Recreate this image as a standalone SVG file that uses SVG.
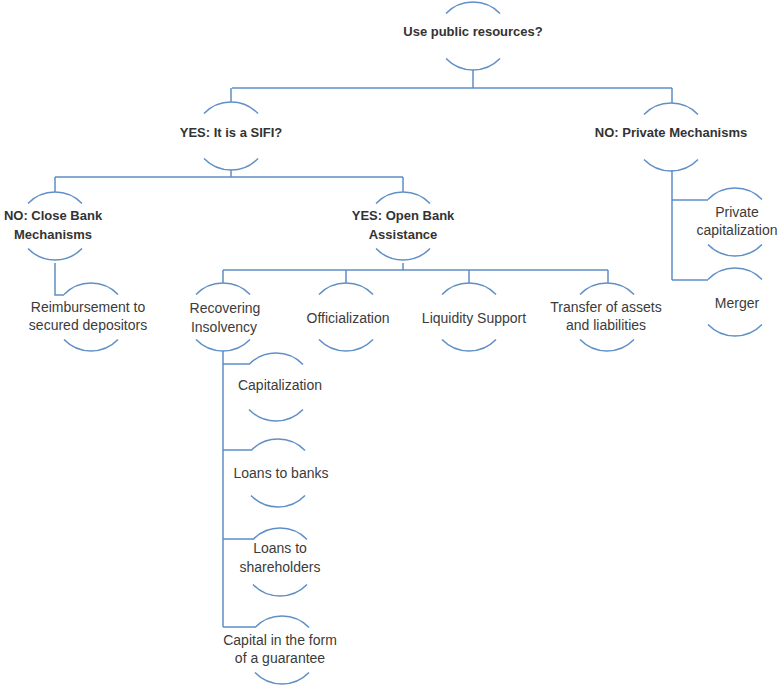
<svg xmlns="http://www.w3.org/2000/svg" xmlns:xlink="http://www.w3.org/1999/xlink" width="779" height="687" viewBox="0 0 779 687">
<style>
.ln{fill:none;stroke:#5f8fc6;stroke-width:1.5}
.t{font-family:"Liberation Sans",Arial,sans-serif;font-size:14px;fill:#3b3b3b;text-anchor:middle}
.b{font-family:"Liberation Sans",Arial,sans-serif;font-size:13px;font-weight:bold;fill:#333;text-anchor:middle}
</style>
<defs>
<path id="arcs" class="ln" d="M-27,11.5 A37.5,37.5 0 0 1 27,11.5 M-27,56.5 A37.5,37.5 0 0 0 27,56.5"/>
</defs>
<rect width="779" height="687" fill="#fff"/>
<g id="connectors" class="ln">
<path d="M473,70 V88 M232,88 H672 M231,88 V102 M672,88 V103"/>
<path d="M231,170 V177 M55,177 H403 M55,177 V192 M403,177 V192"/>
<path d="M55,263 V295 H64"/>
<path d="M403,263 V270 M223,270 H608 M223,270 V283 M346,270 V283 M469,270 V283 M608,270 V283"/>
<path d="M223,351 V627 M223,364 H249 M223,450 H251 M223,539 H253 M223,627 H255"/>
<path d="M672,170 V280 M672,200 H708 M672,280 H708"/>
</g>
<g id="n-public" transform="translate(473,2)"><use xlink:href="#arcs"/><text class="b" x="0" y="34">Use public resources?</text></g>
<g id="n-sifi" transform="translate(231,102)"><use xlink:href="#arcs"/><text class="b" x="0" y="35">YES: It is a SIFI?</text></g>
<g id="n-private" transform="translate(671,103)"><use xlink:href="#arcs"/><text class="b" x="0" y="34">NO: Private Mechanisms</text></g>
<g id="n-close" transform="translate(55,192)"><use xlink:href="#arcs"/><text class="b" x="-2" y="28">NO: Close Bank</text><text class="b" x="-2" y="47">Mechanisms</text></g>
<g id="n-open" transform="translate(403,192)"><use xlink:href="#arcs"/><text class="b" x="0" y="28">YES: Open Bank</text><text class="b" x="0" y="47">Assistance</text></g>
<g id="n-reimb" transform="translate(91,283)"><use xlink:href="#arcs"/><text class="t" x="-3" y="29">Reimbursement to</text><text class="t" x="-3" y="47">secured depositors</text></g>
<g id="n-recov" transform="translate(223,283)"><use xlink:href="#arcs"/><text class="t" x="2" y="30">Recovering</text><text class="t" x="1" y="49">Insolvency</text></g>
<g id="n-offic" transform="translate(346,283)"><use xlink:href="#arcs"/><text class="t" x="2" y="40">Officialization</text></g>
<g id="n-liq" transform="translate(469,283)"><use xlink:href="#arcs"/><text class="t" x="5" y="40">Liquidity Support</text></g>
<g id="n-transfer" transform="translate(607,283)"><use xlink:href="#arcs"/><text class="t" x="-1" y="29">Transfer of assets</text><text class="t" x="-1" y="47">and liabilities</text></g>
<g id="n-pcap" transform="translate(735,188)"><use xlink:href="#arcs"/><text class="t" x="2" y="29">Private</text><text class="t" x="2" y="47">capitalization</text></g>
<g id="n-merger" transform="translate(735,268)"><use xlink:href="#arcs"/><text class="t" x="2" y="40">Merger</text></g>
<g id="n-cap" transform="translate(276,353)"><use xlink:href="#arcs"/><text class="t" x="4" y="37">Capitalization</text></g>
<g id="n-loansb" transform="translate(278,439)"><use xlink:href="#arcs"/><text class="t" x="3" y="39">Loans to banks</text></g>
<g id="n-loanss" transform="translate(280,528)"><use xlink:href="#arcs"/><text class="t" x="0" y="25">Loans to</text><text class="t" x="0" y="44">shareholders</text></g>
<g id="n-guar" transform="translate(282,616)"><use xlink:href="#arcs"/><text class="t" x="-2" y="29">Capital in the form</text><text class="t" x="-2" y="47">of a guarantee</text></g>
</svg>
